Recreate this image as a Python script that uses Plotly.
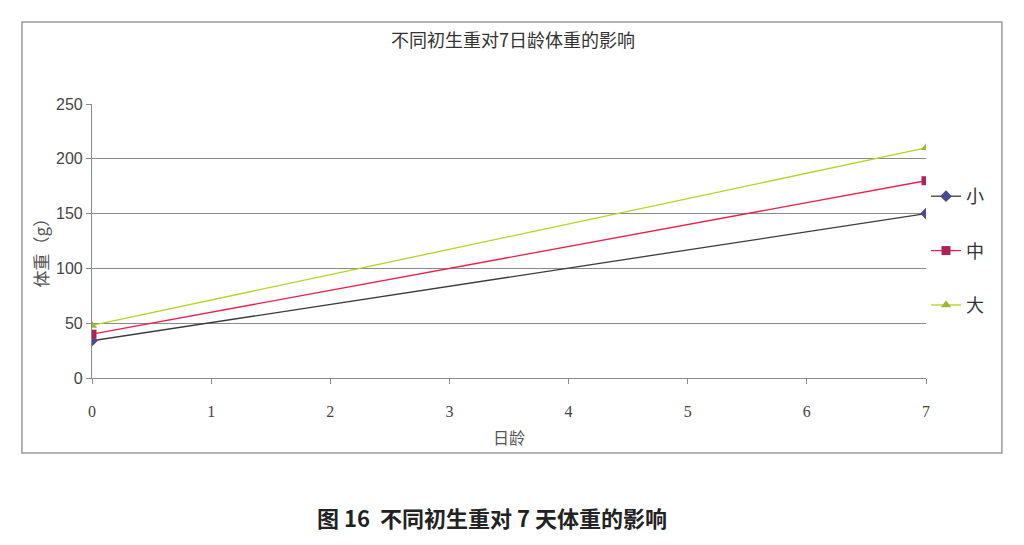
import plotly.graph_objects as go

# data
days = [0, 7]
series_names = ["小", "中", "大"]
weight_small = [34, 150]
weight_mid = [40, 180]
weight_large = [48, 210]

line_colors = ["#3c3c3c", "#e8204c", "#b4d228"]
marker_colors = ["#4a4a92", "#b0205c", "#9ab82a"]
marker_symbols = ["diamond", "square", "triangle-up"]

fig = go.Figure()
for i, (name, ys) in enumerate(zip(series_names, [weight_small, weight_mid, weight_large])):
    fig.add_trace(go.Scatter(
        x=days, y=ys, name=name, mode="lines+markers",
        legendgroup=name,
        line=dict(color=line_colors[i], width=1.3),
        marker=dict(color=marker_colors[i], symbol=marker_symbols[i], size=9),
    ))

# outer chart frame
fig.add_shape(type="rect", xref="paper", yref="paper",
              x0=-0.084, x1=1.091, y0=-0.274, y1=1.299,
              line=dict(color="#9a9a9a", width=1.5), fillcolor="rgba(0,0,0,0)")

fig.add_annotation(text="不同初生重对7日龄体重的影响", xref="paper", yref="paper",
                   x=0.505, y=1.237, xanchor="center", yanchor="middle", showarrow=False,
                   font=dict(size=18, color="#333333", family="Noto Sans CJK SC"))
fig.add_annotation(text="日龄", xref="paper", yref="paper",
                   x=0.5, y=-0.216, xanchor="center", yanchor="middle", showarrow=False,
                   font=dict(size=16, color="#555555", family="Noto Sans CJK SC"))
fig.add_annotation(text="体重（g）", xref="paper", yref="paper",
                   x=-0.062, y=0.474, xanchor="center", yanchor="middle",
                   showarrow=False, textangle=-90,
                   font=dict(size=17, color="#555555", family="Noto Sans CJK SC"))
fig.add_annotation(text="<b>图 16&nbsp;&nbsp;不同初生重对 7 天体重的影响</b>", xref="paper", yref="paper",
                   x=0.48, y=-0.507, xanchor="center", yanchor="middle", showarrow=False,
                   font=dict(size=22, color="#222222", family="Noto Sans CJK SC"))

fig.update_xaxes(range=[0, 7], dtick=1, showgrid=False, zeroline=False,
                 showline=True, linecolor="#8a8a8a", linewidth=1.2,
                 ticks="outside", ticklen=5, tickcolor="#8a8a8a",
                 ticklabelstandoff=14,
                 tickfont=dict(size=16, color="#444444", family="Liberation Serif"))
fig.update_yaxes(range=[0, 250], dtick=50, showgrid=True, gridcolor="#8a8a8a", gridwidth=1,
                 zeroline=False, showline=True, linecolor="#8a8a8a", linewidth=1.2,
                 ticks="outside", ticklen=5, tickcolor="#8a8a8a",
                 tickfont=dict(size=16, color="#444444", family="Liberation Sans"))

# the page puts the figure 8px in from the corner, so margins are shifted by 8px
fig.update_layout(
    width=1024, height=545,
    margin=dict(l=84, r=106, t=96, b=175),
    plot_bgcolor="white", paper_bgcolor="white",
    showlegend=True,
    legend=dict(x=1.0, y=0.73, xanchor="left", yanchor="top",
                tracegroupgap=28, itemwidth=30,
                font=dict(size=18, color="#333333", family="Noto Sans CJK SC"),
                bgcolor="rgba(0,0,0,0)"),
)

fig.write_html("out.html")
